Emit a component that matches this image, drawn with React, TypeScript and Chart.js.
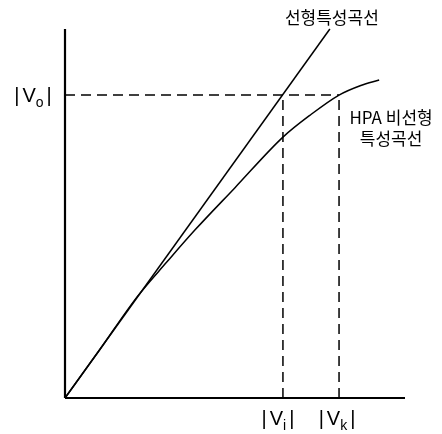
import React, { useEffect, useRef } from "react";
import { Chart, registerables } from "chart.js";

Chart.register(...registerables);

// axis extents (arbitrary units)
const X_MAX = 100;
const Y_MAX = 100;

// linear characteristic
const linearX = [0, 77.9];
const linearY = [0, 100];

// HPA nonlinear characteristic
const hpaX = [0, 10, 21.2, 30, 38.2, 50, 64.1, 72, 80.6, 87, 92.4];
const hpaY = [0, 12.8, 27.4, 36.9, 45.5, 57.0, 70.7, 76.6, 82.1, 84.7, 86.2];

// marked values
const VO = 82.1;
const VI = 64.1;
const VK = 80.6;

const LABEL_LINEAR = "선형특성곡선";
const LABEL_HPA_1 = "HPA 비선형";
const LABEL_HPA_2 = "특성곡선";

const pts = (xs: number[], ys: number[]) => xs.map((x, i) => ({ x, y: ys[i] }));

const FONT = "'Liberation Sans', Arial, 'Noto Sans CJK KR', sans-serif";
const KFONT = "'Noto Sans CJK KR', 'Liberation Sans', sans-serif";

function drawAbs(ctx: CanvasRenderingContext2D, cx: number, cy: number, sub: string) {
  ctx.save();
  ctx.fillStyle = "#000";
  ctx.textBaseline = "alphabetic";
  const big = "20px " + FONT;
  const small = "14px " + FONT;
  ctx.font = big;
  const wBar = ctx.measureText("|").width;
  const wV = ctx.measureText("V").width;
  ctx.font = small;
  const wS = ctx.measureText(sub).width;
  const gap = 3;
  const total = wBar + gap + wV + wS + gap + wBar;
  let x = cx - total / 2;
  const base = cy + 7;
  ctx.font = big;
  ctx.fillText("|", x, base);
  x += wBar + gap;
  ctx.fillText("V", x, base);
  x += wV;
  ctx.font = small;
  ctx.fillText(sub, x, base + 5);
  x += wS + gap;
  ctx.font = big;
  ctx.fillText("|", x, base);
  ctx.restore();
}

const labelPlugin = {
  id: "labels",
  afterDatasetsDraw(chart: any) {
    const ctx = chart.ctx as CanvasRenderingContext2D;
    const xs = chart.scales.x;
    const ys = chart.scales.y;
    const x0 = xs.getPixelForValue(0);
    const y0 = ys.getPixelForValue(0);
    drawAbs(ctx, x0 - 32, ys.getPixelForValue(VO), "o");
    drawAbs(ctx, xs.getPixelForValue(VI) - 5, y0 + 20, "i");
    drawAbs(ctx, xs.getPixelForValue(VK) - 2, y0 + 20, "k");

    ctx.save();
    ctx.fillStyle = "#000";
    ctx.textAlign = "center";
    ctx.textBaseline = "middle";
    ctx.font = "17px " + KFONT;
    const lx = xs.getPixelForValue(linearX[1]);
    const ly = ys.getPixelForValue(linearY[1]);
    ctx.fillText(LABEL_LINEAR, lx + 2, ly - 11);
    const hx = xs.getPixelForValue(VK) + 52;
    const hy = ys.getPixelForValue(VO);
    ctx.fillText(LABEL_HPA_1, hx, hy + 22);
    ctx.fillText(LABEL_HPA_2, hx, hy + 43);
    ctx.restore();
  },
};

export default function App() {
  const ref = useRef<HTMLCanvasElement | null>(null);
  useEffect(() => {
    if (!ref.current) return;
    const solid = { borderColor: "#000", pointRadius: 0, showLine: true, fill: false, clip: false as any };
    const dashed = { ...solid, borderWidth: 1.5, borderDash: [10, 6] };
    const chart = new Chart(ref.current, {
      type: "scatter",
      data: {
        datasets: [
          { ...solid, borderWidth: 2.2, data: [{ x: 0, y: 0 }, { x: 0, y: Y_MAX }] },
          { ...solid, borderWidth: 2.2, data: [{ x: 0, y: 0 }, { x: X_MAX, y: 0 }] },
          { ...solid, borderWidth: 1.5, data: pts(linearX, linearY) },
          { ...solid, borderWidth: 1.5, cubicInterpolationMode: "monotone", data: pts(hpaX, hpaY) },
          { ...dashed, data: [{ x: 0, y: VO }, { x: VK, y: VO }] },
          { ...dashed, data: [{ x: VI, y: 0 }, { x: VI, y: VO }] },
          { ...dashed, data: [{ x: VK, y: 0 }, { x: VK, y: VO }] },
        ] as any,
      },
      options: {
        responsive: false,
        animation: false,
        layout: { padding: { left: 65, right: 37, top: 29, bottom: 36 } },
        plugins: { legend: { display: false }, tooltip: { enabled: false } },
        scales: {
          x: { type: "linear", min: 0, max: X_MAX, display: false },
          y: { type: "linear", min: 0, max: Y_MAX, display: false },
        },
      },
      plugins: [labelPlugin],
    });
    return () => chart.destroy();
  }, []);
  return (
    <div style={{ position: "fixed", left: 0, top: 0, width: 442, height: 434, background: "#fff" }}>
      <canvas ref={ref} width={442} height={434} style={{ display: "block" }} />
    </div>
  );
}
